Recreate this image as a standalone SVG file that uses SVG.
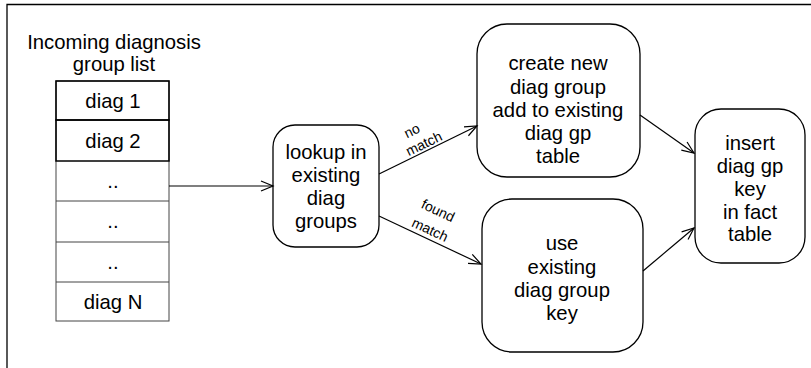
<svg xmlns="http://www.w3.org/2000/svg" width="811" height="368" viewBox="0 0 811 368">
<style>
text{font-family:"Liberation Sans",Arial,sans-serif;font-size:20.3px;fill:#000;text-anchor:middle}
.sm{font-size:14px}
.box{fill:#fff;stroke:#000;stroke-width:1.3}
.row{fill:#fff;stroke:#444;stroke-width:1}
.rowd{fill:none;stroke:#000;stroke-width:1.5}
.con{stroke:#000;stroke-width:1.2;fill:none}
</style>
<defs>
<marker id="arr" markerUnits="userSpaceOnUse" markerWidth="16" markerHeight="14" refX="13" refY="6" orient="auto" viewBox="0 0 16 12">
<path d="M1,1 L13,6 L1,11" fill="none" stroke="#000" stroke-width="1.2"/>
</marker>
</defs>
<rect width="811" height="368" fill="#fff"/>
<g id="frame"><path d="M7,368 V4.5 H811" fill="none" stroke="#000" stroke-width="1.3"/></g>
<g id="list">
<text x="114" y="49">Incoming diagnosis</text>
<text x="114" y="71">group list</text>
<rect class="row" x="56" y="81" width="113" height="240"/>
<line class="row" x1="56" y1="201" x2="169" y2="201"/>
<line class="row" x1="56" y1="242" x2="169" y2="242"/>
<line class="row" x1="56" y1="282" x2="169" y2="282"/>
<rect class="rowd" x="56" y="81" width="113" height="39"/>
<rect class="rowd" x="56" y="120" width="113" height="41"/>
<text x="113" y="108">diag 1</text>
<text x="113" y="148">diag 2</text>
<text x="113" y="188">..</text>
<text x="113" y="228">..</text>
<text x="113" y="269">..</text>
<text x="113" y="309">diag N</text>
</g>
<g id="lookup">
<rect class="box" x="273" y="125" width="106" height="122" rx="22"/>
<text x="326" y="159">lookup in</text>
<text x="326" y="182">existing</text>
<text x="326" y="205">diag</text>
<text x="326" y="228">groups</text>
</g>
<g id="create">
<rect class="box" x="477" y="24" width="163" height="153" rx="30"/>
<text x="558" y="70">create new</text>
<text x="558" y="94">diag group</text>
<text x="558" y="117">add to existing</text>
<text x="558" y="140">diag gp</text>
<text x="558" y="163">table</text>
</g>
<g id="use">
<rect class="box" x="482" y="199" width="161" height="153" rx="30"/>
<text x="562" y="250">use</text>
<text x="562" y="274">existing</text>
<text x="562" y="297">diag group</text>
<text x="562" y="320">key</text>
</g>
<g id="insert">
<rect class="box" x="695" y="109" width="110" height="154" rx="26"/>
<text x="750" y="150">insert</text>
<text x="750" y="173">diag gp</text>
<text x="750" y="196">key</text>
<text x="750" y="219">in fact</text>
<text x="750" y="241">table</text>
</g>
<g id="connectors">
<line class="con" x1="169" y1="186" x2="273" y2="186" marker-end="url(#arr)"/>
<line class="con" x1="379" y1="174" x2="477" y2="126" marker-end="url(#arr)"/>
<line class="con" x1="379" y1="216" x2="481" y2="264" marker-end="url(#arr)"/>
<line class="con" x1="640" y1="115" x2="694" y2="153" marker-end="url(#arr)"/>
<line class="con" x1="643" y1="271" x2="694" y2="228" marker-end="url(#arr)"/>
<text class="sm" transform="translate(414,135) rotate(-26)">no</text>
<text class="sm" transform="translate(426,148) rotate(-26)">match</text>
<text class="sm" transform="translate(436,215) rotate(25)">found</text>
<text class="sm" transform="translate(428,234) rotate(25)">match</text>
</g>
</svg>
